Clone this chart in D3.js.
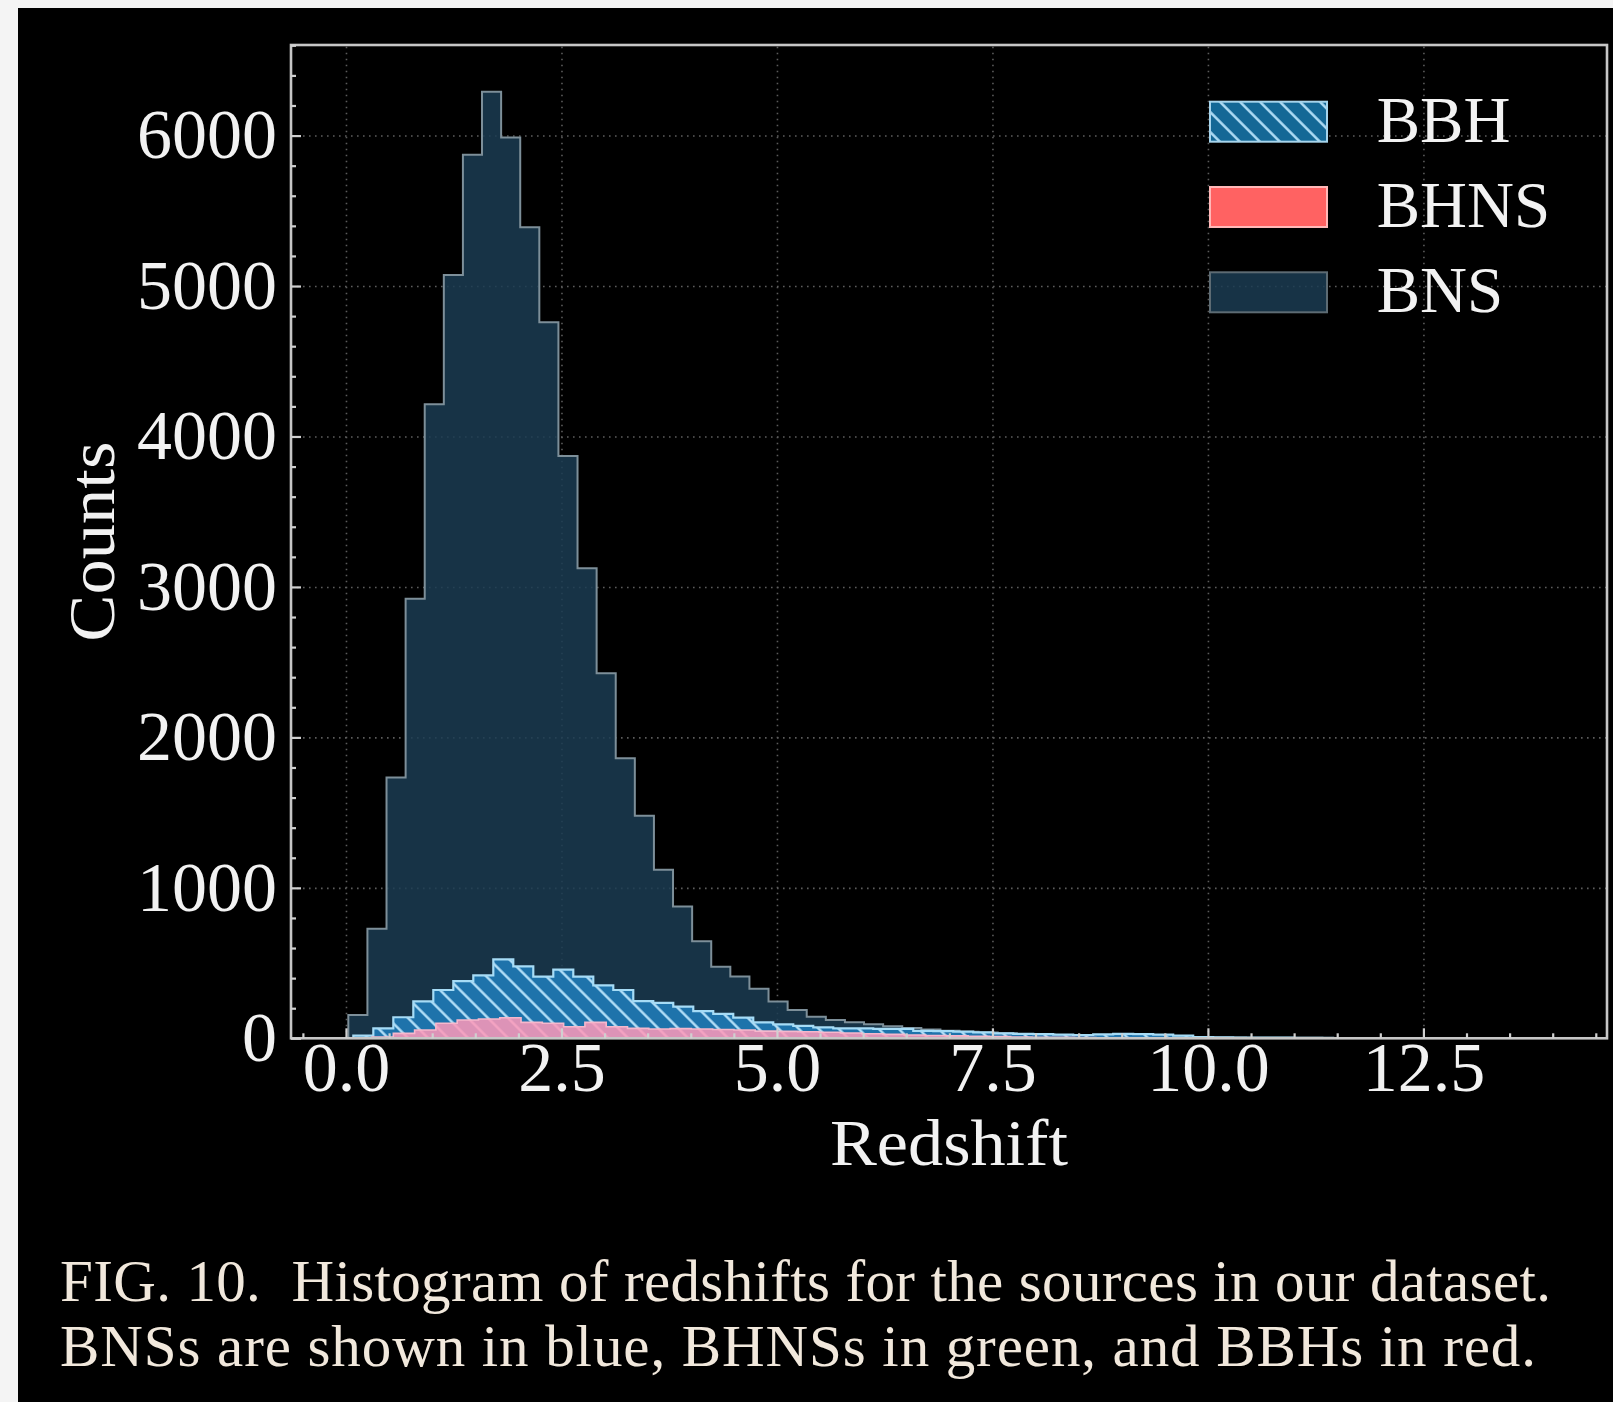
<!DOCTYPE html>
<html>
<head>
<meta charset="utf-8">
<script src="https://cdn.jsdelivr.net/npm/d3@7"></script>
<style>
  html, body { margin: 0; padding: 0; background: #f4f4f4; }
  svg { display: block; }
  text { font-family: "Liberation Serif", "Times New Roman", serif; }
</style>
</head>
<body>
<svg id="chart" width="1613" height="1402"></svg>
<script>
// ---- Data: redshift histograms (counts per bin) ----
const xTickValues = [0, 2.5, 5, 7.5, 10, 12.5];
const xTickLabels = ["0.0", "2.5", "5.0", "7.5", "10.0", "12.5"];
const yTickValues = [0, 1000, 2000, 3000, 4000, 5000, 6000];
const yTickLabels = ["0", "1000", "2000", "3000", "4000", "5000", "6000"];
const xDomain = [-0.638, 14.63];
const yDomain = [0, 6602];

// BNS: 60 bins
const bnsBinStart = 0.027;
const bnsBinWidth = 0.2216;
const bnsCounts = [155, 728, 1733, 2921, 4215, 5074, 5872, 6292, 5987, 5391,
                   4760, 3870, 3125, 2427, 1862, 1479, 1120, 876, 645, 475,
                   410, 330, 245, 188, 144, 122, 106, 93, 80, 68,
                   58, 50, 44, 38, 33, 28, 24, 20, 17, 15,
                   13, 11, 9, 8, 7, 6, 5, 4, 4, 3,
                   3, 2, 2, 2, 1, 1, 1, 1, 0, 1];

// BBH: 60 bins
const bbhBinStart = 0.085;
const bbhBinWidth = 0.232;
const bbhCounts = [18, 66, 140, 245, 321, 380, 418, 525, 478, 410,
                   456, 410, 352, 321, 247, 235, 210, 181, 163, 137,
                   106, 93, 82, 73, 66, 66, 62, 62, 50, 48,
                   44, 40, 33, 30, 28, 25, 22, 26, 30, 28,
                   24, 18, 8, 6, 5, 4, 4, 3, 3, 2,
                   2, 2, 1, 1, 1, 1, 1, 0, 1, 1];

// BHNS: 56 bins
const bhnsBinStart = 0.302;
const bhnsBinWidth = 0.247;
const bhnsCounts = [8, 33, 55, 100, 122, 128, 137, 106, 100, 77,
                    106, 77, 66, 62, 64, 62, 58, 55, 48, 46,
                    44, 40, 35, 30, 26, 22, 19, 16, 13, 11,
                    9, 7, 6, 5, 4, 3, 3, 2, 2, 2,
                    1, 1, 1, 1, 1, 0, 1, 0, 0, 1,
                    0, 1, 0, 0, 1, 0];

const legendNames = ["BBH", "BHNS", "BNS"];
const xLabel = "Redshift";
const yLabel = "Counts";
const captionLines = [
  "FIG. 10.  Histogram of redshifts for the sources in our dataset.",
  "BNSs are shown in blue, BHNSs in green, and BBHs in red."
];

// ---- Layout ----
const svg = d3.select("#chart");
const W = 1613, H = 1402;
const plot = { left: 291, right: 1607, top: 45, bottom: 1038.3 };
const fontTick = 70, fontLegend = 65, fontTitle = 66;

const x = d3.scaleLinear().domain(xDomain).range([plot.left, plot.right]);
const y = d3.scaleLinear().domain(yDomain).range([plot.bottom, plot.top]);

// page background
svg.append("rect").attr("x", 18).attr("y", 8).attr("width", W - 18).attr("height", H - 8).attr("fill", "#000");

const defs = svg.append("defs");
defs.append("clipPath").attr("id", "plotClip")
  .append("rect").attr("x", plot.left).attr("y", plot.top)
  .attr("width", plot.right - plot.left).attr("height", plot.bottom - plot.top);

// diagonal "\\" hatch
const hatch = defs.append("pattern").attr("id", "hatch")
  .attr("patternUnits", "userSpaceOnUse")
  .attr("width", 14.14).attr("height", 14.14)
  .attr("patternTransform", "rotate(-45)");
hatch.append("line").attr("x1", 7).attr("y1", -2).attr("x2", 7).attr("y2", 17)
  .attr("stroke", "#b4e0f8").attr("stroke-width", 2.4);

// ---- Grid ----
const gridX = svg.append("g").attr("transform", `translate(0,${plot.bottom})`)
  .call(d3.axisBottom(x).tickValues(xTickValues).tickFormat("")
    .tickSizeInner(-(plot.bottom - plot.top)).tickSizeOuter(0));
const gridY = svg.append("g").attr("transform", `translate(${plot.left},0)`)
  .call(d3.axisLeft(y).tickValues(yTickValues.slice(1)).tickFormat("")
    .tickSizeInner(-(plot.right - plot.left)).tickSizeOuter(0));
[gridX, gridY].forEach(g => {
  g.select(".domain").remove();
  g.selectAll("line").attr("stroke", "#5c5c5c").attr("stroke-width", 1.6)
    .attr("stroke-dasharray", "1.6,4.4");
});

// ---- Histograms ----
function stepPoints(start, width, counts) {
  const pts = [[start, 0]];
  counts.forEach((c, i) => {
    pts.push([start + i * width, c]);
    pts.push([start + (i + 1) * width, c]);
  });
  pts.push([start + counts.length * width, 0]);
  return pts;
}
const stepLine = d3.line().x(d => x(d[0])).y(d => y(d[1]));
const histLayer = svg.append("g").attr("clip-path", "url(#plotClip)");

// BNS
const bnsPath = stepLine(stepPoints(bnsBinStart, bnsBinWidth, bnsCounts)) + "Z";
histLayer.append("path").attr("d", bnsPath)
  .attr("fill", "#1b3c52").attr("fill-opacity", 0.85)
  .attr("stroke", "#7d8f99").attr("stroke-width", 2).attr("stroke-linejoin", "miter");

// BBH
const bbhPath = stepLine(stepPoints(bbhBinStart, bbhBinWidth, bbhCounts)) + "Z";
histLayer.append("path").attr("d", bbhPath).attr("fill", "#1f78b4").attr("fill-opacity", 0.92);
histLayer.append("path").attr("d", bbhPath).attr("fill", "url(#hatch)");
histLayer.append("path").attr("d", bbhPath).attr("fill", "none")
  .attr("stroke", "#a6dcf6").attr("stroke-width", 2.2);

// BHNS
const bhnsPath = stepLine(stepPoints(bhnsBinStart, bhnsBinWidth, bhnsCounts)) + "Z";
histLayer.append("path").attr("d", bhnsPath)
  .attr("fill", "#ff99b8").attr("fill-opacity", 0.85)
  .attr("stroke", "#f6b8cc").attr("stroke-width", 1.6);

// ---- Spines ----
svg.append("rect").attr("x", plot.left).attr("y", plot.top)
  .attr("width", plot.right - plot.left).attr("height", plot.bottom - plot.top)
  .attr("fill", "none").attr("stroke", "#c6c6c6").attr("stroke-width", 2.6);

// ---- Axes (inward ticks) ----
const xMinor = d3.range(-0.5, 14.6, 0.5).filter(v => !xTickValues.includes(v));
const yMinor = d3.range(200, 6601, 200).filter(v => v % 1000 !== 0);

function styleAxis(g) {
  g.select(".domain").remove();
  g.selectAll("line").attr("stroke", "#d0d0d0").attr("stroke-width", 2.2);
  g.selectAll("text").attr("fill", "#f2f2f2").attr("font-size", fontTick)
    .attr("font-family", "'Liberation Serif', serif");
}
svg.append("g").attr("transform", `translate(0,${plot.bottom})`)
  .call(d3.axisBottom(x).tickValues(xMinor).tickFormat("").tickSizeInner(-5).tickSizeOuter(0))
  .call(styleAxis);
svg.append("g").attr("transform", `translate(${plot.left},0)`)
  .call(d3.axisLeft(y).tickValues(yMinor).tickFormat("").tickSizeInner(-5).tickSizeOuter(0))
  .call(styleAxis);
svg.append("g").attr("transform", `translate(0,${plot.bottom})`)
  .call(d3.axisBottom(x).tickValues(xTickValues).tickFormat((d, i) => xTickLabels[i])
    .tickSizeInner(-10).tickSizeOuter(0).tickPadding(3))
  .call(styleAxis);
svg.append("g").attr("transform", `translate(${plot.left},0)`)
  .call(d3.axisLeft(y).tickValues(yTickValues).tickFormat((d, i) => yTickLabels[i])
    .tickSizeInner(-10).tickSizeOuter(0).tickPadding(14))
  .call(styleAxis);

// axis titles
svg.append("text").attr("x", (plot.left + plot.right) / 2).attr("y", 1165)
  .attr("text-anchor", "middle").attr("fill", "#f2f2f2").attr("font-size", fontTitle)
  .attr("textLength", 238).attr("lengthAdjust", "spacingAndGlyphs")
  .text(xLabel);
svg.append("text").attr("transform", `translate(114,${(plot.top + plot.bottom) / 2}) rotate(-90)`)
  .attr("text-anchor", "middle").attr("fill", "#f2f2f2").attr("font-size", fontTitle)
  .attr("textLength", 200).attr("lengthAdjust", "spacingAndGlyphs")
  .text(yLabel);

// ---- Legend ----
const legend = svg.append("g").attr("transform", "translate(1210,101.7)");
const rowGap = 85.3, patchW = 117, patchH = 40;
legendNames.forEach((name, i) => {
  const g = legend.append("g").attr("transform", `translate(0,${i * rowGap})`);
  if (name === "BBH") {
    g.append("rect").attr("width", patchW).attr("height", patchH).attr("fill", "#146896");
    g.append("rect").attr("width", patchW).attr("height", patchH).attr("fill", "url(#hatch)");
    g.append("rect").attr("width", patchW).attr("height", patchH).attr("fill", "none")
      .attr("stroke", "#a6d4ec").attr("stroke-width", 2);
  } else if (name === "BHNS") {
    g.append("rect").attr("width", patchW).attr("height", patchH).attr("fill", "#ff6262")
      .attr("stroke", "#ffb8b8").attr("stroke-width", 2);
  } else {
    g.append("rect").attr("width", patchW).attr("height", patchH)
      .attr("fill", "#1b3c52").attr("fill-opacity", 0.85)
      .attr("stroke", "#5d6b73").attr("stroke-width", 2);
  }
  g.append("text").attr("x", 166.7).attr("y", patchH).attr("fill", "#f2f2f2")
    .attr("font-size", fontLegend).text(name);
});

// ---- Caption ----
const capWidths = [1491, 1476];
captionLines.forEach((line, i) => {
  svg.append("text").attr("x", 60).attr("y", 1301 + i * 65)
    .attr("fill", "#f1e8dc").attr("font-size", 59)
    .attr("textLength", capWidths[i]).attr("lengthAdjust", "spacing")
    .style("white-space", "pre")
    .text(line);
});
</script>
</body>
</html>
